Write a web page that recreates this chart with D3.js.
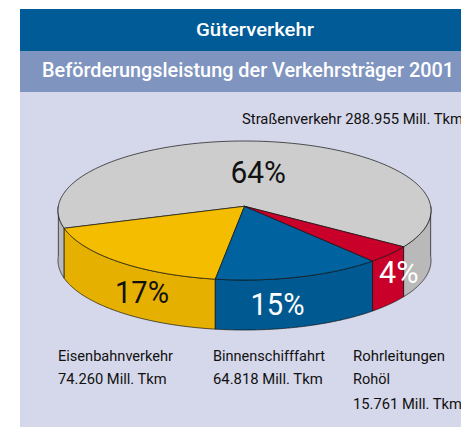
<!DOCTYPE html>
<html><head><meta charset="utf-8">
<script src="https://cdn.jsdelivr.net/npm/d3@7/dist/d3.min.js"></script>
<style>html,body{margin:0;padding:0;background:#fff;overflow:hidden}svg{display:block}text{font-family:"Roboto",sans-serif}</style>
</head><body><svg id="c" width="461" height="427"></svg>
<script>
const categories=["Straßenverkehr","Eisenbahnverkehr","Binnenschifffahrt","Rohrleitungen Rohöl"];
const printedMillTkm=["288.955","74.260","64.818","15.761"];
// wedge sizes as they are drawn in the picture, in percent of the pie top
const drawnShares=[64.6,17.6,13.75,4.05];
const percentLabels=["64%","17%","15%","4%"];
const topColors=["#cdcdcd","#f5bd00","#00629f","#c90029"];
const wallColors=["#b9b9b9","#e5b000","#005a91","#c90029"];
const labelColors=["#111","#111","#fff","#fff"];

const svg=d3.select("#c");
const rad=d=>d*Math.PI/180;
const fit=(sel,w)=>sel.attr("textLength",w).attr("lengthAdjust","spacingAndGlyphs");
svg.append("rect").attr("x",20).attr("y",9).attr("width",441).attr("height",418).attr("fill","#d5d7ea");
svg.append("rect").attr("x",20).attr("y",9).attr("width",441).attr("height",42).attr("fill","#005b96");
svg.append("rect").attr("x",20).attr("y",51).attr("width",441).attr("height",41).attr("fill","#7f95bf");
fit(svg.append("text").attr("x",196).attr("y",36).attr("fill","#fff").attr("font-size",19).attr("font-weight",500).text("Güterverkehr"),118);
fit(svg.append("text").attr("x",42).attr("y",77).attr("fill","#fff").attr("font-size",19.5).attr("font-weight",500).text("Beförderungsleistung der Verkehrsträger 2001"),412);

const x=d3.scaleLinear().domain([-1,1]).range([58,431]);
const y=d3.scaleLinear().domain([-1,1]).range([141,280]);
const depth=50,k=0.061;
// perspective: the pie's true centre appears behind the rim ellipse's centre
const proj=(a,r=1)=>{ // a: d3 angle (0 = up, clockwise)
  const c=Math.sin(a)*r,s=-Math.cos(a)*r,d=1-k*s;
  return [x(c*Math.sqrt(1-k*k)/d),y((s-k)/d)];
};
const pie=d3.pie().sort(null).startAngle(rad(124.4)).endAngle(rad(124.4-360));
const arcs=pie(drawnShares);
const rim=(a0,a1)=>d3.range(0,121).map(i=>proj(a0+(a1-a0)*i/120));

const g=svg.append("g").attr("stroke","#111").attr("stroke-width",0.7).attr("stroke-linejoin","round");
// visible part of the side wall: screen angles in the front half
const front=(p)=>{
  const lo=Math.min(p.startAngle,p.endAngle),hi=Math.max(p.startAngle,p.endAngle);
  const parts=[];
  [[rad(90),rad(270)],[rad(90-360),rad(270-360)]].forEach(([a,b])=>{
    const s=Math.max(lo,a),e=Math.min(hi,b);
    if(e>s)parts.push([s,e]);
  });
  return parts;
};
arcs.forEach((p,i)=>{
  front(p).forEach(([s,e])=>{
    const pts=rim(s,e);
    const poly=pts.concat(pts.slice().reverse().map(q=>[q[0],q[1]+depth]));
    g.append("path").attr("d",d3.line()(poly)+"Z").attr("fill",wallColors[i]);
  });
});
arcs.forEach((p,i)=>{
  const pts=rim(p.startAngle,p.endAngle);
  const apex=proj(0,0);
  g.append("path").attr("d",d3.line()([apex].concat(pts))+"Z").attr("fill",topColors[i]);
});

const percentX=[230.5,115,250.5,379],percentY=[183,303,315,283],percentW=[55.5,54,54,39.5];
percentLabels.forEach((t,i)=>{
  fit(svg.append("text").attr("x",percentX[i]).attr("y",percentY[i]).attr("fill",labelColors[i]).attr("font-size",31).attr("font-weight",400).text(t),percentW[i]);
});
const [road,rail,ship,pipe]=categories;
const [pipeA,pipeB]=pipe.split(" ");
const unit=" Mill. Tkm";
const notes=[
 [242,124,road+" "+printedMillTkm[0]+unit,221],
 [58,361,rail,115],[58,384,printedMillTkm[1]+unit,108.7],
 [213,361,ship,112],[213,384,printedMillTkm[2]+unit,109.7],
 [353,361,pipeA,92],[353,384,pipeB,37],[353,409,printedMillTkm[3]+unit,109]];
notes.forEach(n=>fit(svg.append("text").attr("x",n[0]).attr("y",n[1]).attr("fill","#111").attr("font-size",15).text(n[2]),n[3]));
</script></body></html>
